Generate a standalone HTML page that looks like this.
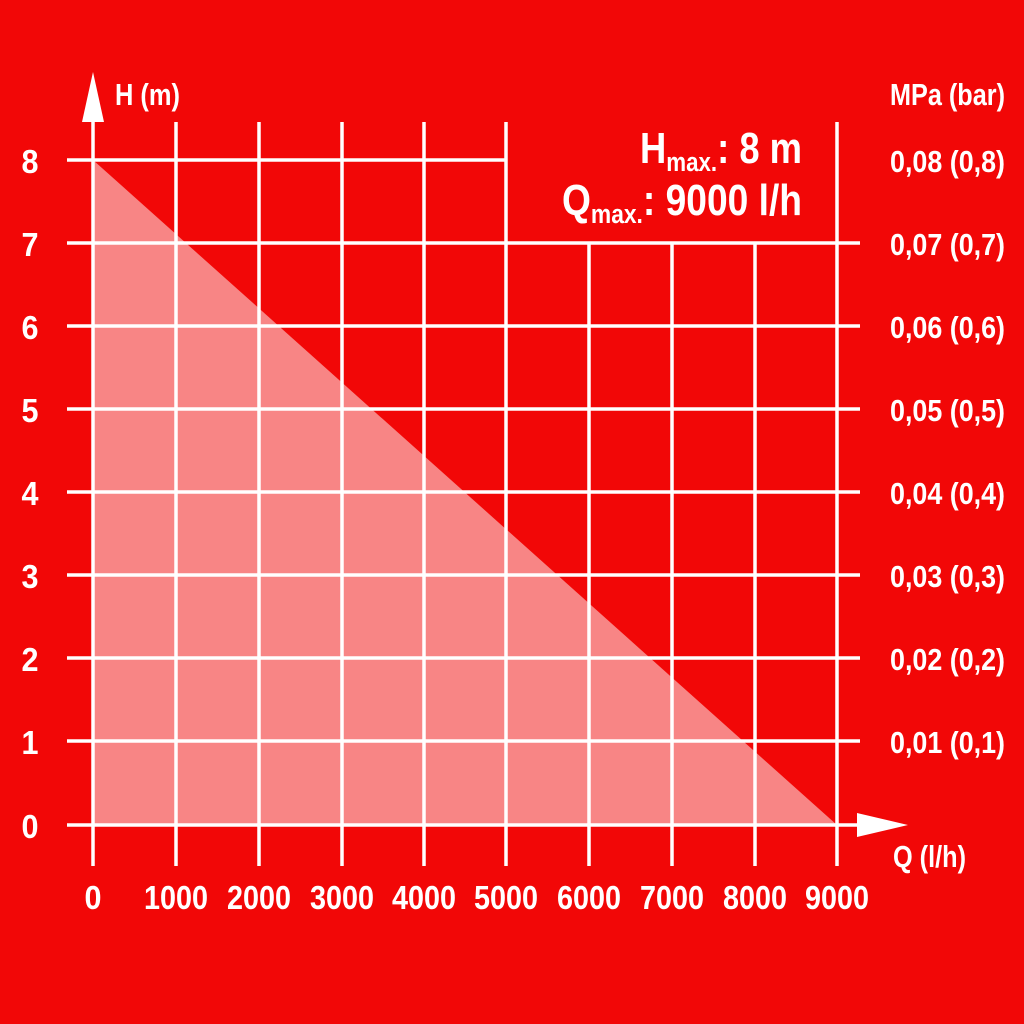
<!DOCTYPE html>
<html><head><style>html,body{margin:0;padding:0;background:#f20707;}svg{display:block}</style></head>
<body>
<svg width="1024" height="1024" viewBox="0 0 1024 1024" xmlns="http://www.w3.org/2000/svg" font-family="'Liberation Sans Narrow','Liberation Sans',sans-serif" font-weight="bold" fill="#fff">
<rect width="1024" height="1024" fill="#f20707"/>
<polygon points="93,160 837,825 93,825" fill="#f88585"/>
<g stroke="#fff" stroke-width="3.5" fill="none">
<line x1="93" y1="115" x2="93" y2="866"/>
<line x1="176" y1="122" x2="176" y2="866"/>
<line x1="259" y1="122" x2="259" y2="866"/>
<line x1="342" y1="122" x2="342" y2="866"/>
<line x1="424" y1="122" x2="424" y2="866"/>
<line x1="506" y1="122" x2="506" y2="866"/>
<line x1="589" y1="243" x2="589" y2="866"/>
<line x1="672" y1="243" x2="672" y2="866"/>
<line x1="755" y1="243" x2="755" y2="866"/>
<line x1="837" y1="122" x2="837" y2="866"/>
<line x1="67" y1="160" x2="506" y2="160"/>
<line x1="67" y1="243" x2="860" y2="243"/>
<line x1="67" y1="326" x2="860" y2="326"/>
<line x1="67" y1="409" x2="860" y2="409"/>
<line x1="67" y1="492" x2="860" y2="492"/>
<line x1="67" y1="575" x2="860" y2="575"/>
<line x1="67" y1="658" x2="860" y2="658"/>
<line x1="67" y1="741" x2="860" y2="741"/>
<line x1="67" y1="825" x2="860" y2="825"/>
</g>
<polygon points="93,72 82,122 104,122" fill="#fff"/>
<polygon points="908,825 857,813 857,837" fill="#fff"/>
<g font-size="33" text-anchor="middle">
<text x="30" y="173" textLength="17" lengthAdjust="spacingAndGlyphs">8</text><text x="30" y="256" textLength="17" lengthAdjust="spacingAndGlyphs">7</text><text x="30" y="339" textLength="17" lengthAdjust="spacingAndGlyphs">6</text><text x="30" y="422" textLength="17" lengthAdjust="spacingAndGlyphs">5</text><text x="30" y="505" textLength="17" lengthAdjust="spacingAndGlyphs">4</text><text x="30" y="588" textLength="17" lengthAdjust="spacingAndGlyphs">3</text><text x="30" y="671" textLength="17" lengthAdjust="spacingAndGlyphs">2</text><text x="30" y="754" textLength="17" lengthAdjust="spacingAndGlyphs">1</text><text x="30" y="838" textLength="17" lengthAdjust="spacingAndGlyphs">0</text>
<text x="93" y="909" textLength="17" lengthAdjust="spacingAndGlyphs">0</text>
<text x="176" y="909" textLength="64" lengthAdjust="spacingAndGlyphs">1000</text>
<text x="259" y="909" textLength="64" lengthAdjust="spacingAndGlyphs">2000</text>
<text x="342" y="909" textLength="64" lengthAdjust="spacingAndGlyphs">3000</text>
<text x="424" y="909" textLength="64" lengthAdjust="spacingAndGlyphs">4000</text>
<text x="506" y="909" textLength="64" lengthAdjust="spacingAndGlyphs">5000</text>
<text x="589" y="909" textLength="64" lengthAdjust="spacingAndGlyphs">6000</text>
<text x="672" y="909" textLength="64" lengthAdjust="spacingAndGlyphs">7000</text>
<text x="755" y="909" textLength="64" lengthAdjust="spacingAndGlyphs">8000</text>
<text x="837" y="909" textLength="64" lengthAdjust="spacingAndGlyphs">9000</text>
</g>
<g font-size="31">
<text x="890" y="172" textLength="115" lengthAdjust="spacingAndGlyphs">0,08 (0,8)</text>
<text x="890" y="255" textLength="115" lengthAdjust="spacingAndGlyphs">0,07 (0,7)</text>
<text x="890" y="338" textLength="115" lengthAdjust="spacingAndGlyphs">0,06 (0,6)</text>
<text x="890" y="421" textLength="115" lengthAdjust="spacingAndGlyphs">0,05 (0,5)</text>
<text x="890" y="504" textLength="115" lengthAdjust="spacingAndGlyphs">0,04 (0,4)</text>
<text x="890" y="587" textLength="115" lengthAdjust="spacingAndGlyphs">0,03 (0,3)</text>
<text x="890" y="670" textLength="115" lengthAdjust="spacingAndGlyphs">0,02 (0,2)</text>
<text x="890" y="753" textLength="115" lengthAdjust="spacingAndGlyphs">0,01 (0,1)</text>
<text x="890" y="105" textLength="115" lengthAdjust="spacingAndGlyphs">MPa (bar)</text>
<text x="115" y="105" textLength="65" lengthAdjust="spacingAndGlyphs">H (m)</text>
<text x="893" y="867" textLength="73" lengthAdjust="spacingAndGlyphs">Q (l/h)</text>
</g>
<text x="640" y="163" font-size="44" textLength="162" lengthAdjust="spacingAndGlyphs">H<tspan font-size="27" dy="8">max.</tspan><tspan dy="-8">: 8 m</tspan></text>
<text x="562" y="215" font-size="44" textLength="240" lengthAdjust="spacingAndGlyphs">Q<tspan font-size="27" dy="8">max.</tspan><tspan dy="-8">: 9000 l/h</tspan></text>
</svg>
</body></html>
